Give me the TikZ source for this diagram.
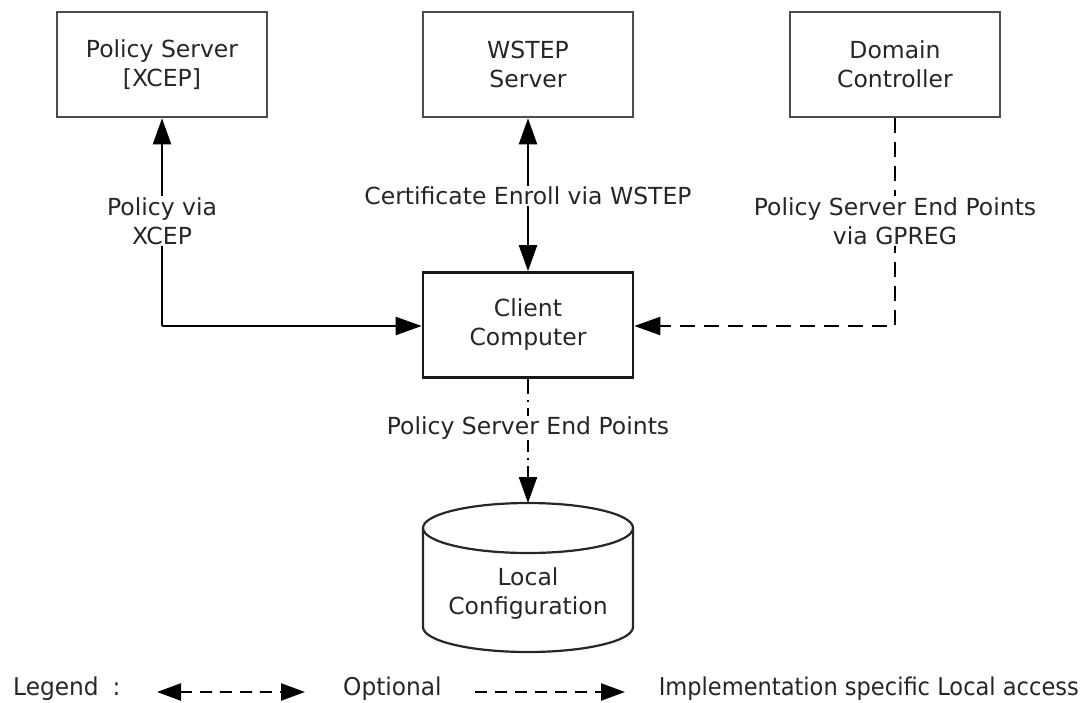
\documentclass[tikz,border=0pt]{standalone}
\usepackage{fontspec}
\usepackage{graphicx}
\setmainfont{DejaVu Sans}
\usetikzlibrary{arrows.meta}
\begin{document}
\begin{tikzpicture}[x=1pt,y=-1pt,
  every node/.style={font=\fontsize{23.5}{29}\selectfont, text=black!85, align=center, inner sep=2pt},
  box/.style={draw=black!70, line width=2.6pt, minimum width=210pt, minimum height=105pt},
  conn/.style={line width=2.2pt, -{Triangle[length=26pt,width=18pt]}},
  dashconn/.style={conn, dash pattern=on 15pt off 9pt},
  dashdot/.style={conn, dash pattern=on 15pt off 6pt on 2pt off 6pt},
  lbl/.style={fill=white, inner sep=1pt},
  leg/.style={font=\fontsize{24.5}{28}\selectfont},
  legarrow/.style={line width=2.4pt, dash pattern=on 12pt off 8pt}]
\useasboundingbox (0,0) rectangle (1082,702);
\node[box] (pol) at (162,64.5) {Policy Server\\{}[XCEP]};
\node[box] (wst) at (528,64.5) {WSTEP\\Server};
\node[box] (dc) at (895,64.5) {Domain\\Controller};
\node[box, draw=black!90] (cc) at (528,325) {Client\\Computer};
% cylinder
\node[minimum width=210pt, minimum height=150pt] (lc) at (528,594) {Local\\Configuration};
\coordinate (lctop) at (528,503);
\draw[line width=2.2pt, black!85] (423,528) arc[start angle=180, end angle=-180, x radius=105pt, y radius=25pt];
\draw[line width=2.2pt, black!85] (423,528) -- (423,627) arc[start angle=180, end angle=360, x radius=105pt, y radius=25pt] -- (633,528);
% connectors
\coordinate (pcorner) at (162,326);
\coordinate (dcorner) at (895,326);
\draw[conn] (pcorner) -- (cc.west |- pcorner);
\draw[conn] (pcorner) -- (pol.south);
\draw[conn, {Triangle[length=26pt,width=18pt]}-{Triangle[length=26pt,width=18pt]}] (wst.south) -- (cc.north);
\draw[dashconn] (dc.south) -- (dcorner) -- (cc.east |- dcorner);
\draw[dashdot] (cc.south) -- (lctop);
\node[lbl] (l1) at (162,221) {Policy via\\XCEP};
\node[lbl] (l2) at (528,196) {Certificate Enroll via WSTEP};
\node[lbl] (l3) at (895,221) {Policy Server End Points\\via GPREG};
\node[lbl] (l4) at (528,428) {Policy Server End Points};
% legend
\node[leg, anchor=west, inner sep=0pt] (lg) at (13,689) {\scalebox{0.95}[1]{Legend\hspace{0.6em}:}};
\coordinate (a1) at (157,692);
\coordinate (a2) at (305,692);
\draw[legarrow, {Triangle[length=24pt,width=17pt]}-{Triangle[length=24pt,width=17pt]}] (a1) -- (a2);
\node[leg, anchor=west, inner sep=0pt] (opt) at (343,689) {\scalebox{0.95}[1]{Optional}};
\coordinate (b1) at (475,692);
\coordinate (b2) at (625,692);
\draw[legarrow, -{Triangle[length=24pt,width=17pt]}] (b1) -- (b2);
\node[leg, anchor=east, inner sep=0pt] (impl) at (1079,689) {\scalebox{0.92}[1]{Implementation specific Local access}};
\end{tikzpicture}
\end{document}
